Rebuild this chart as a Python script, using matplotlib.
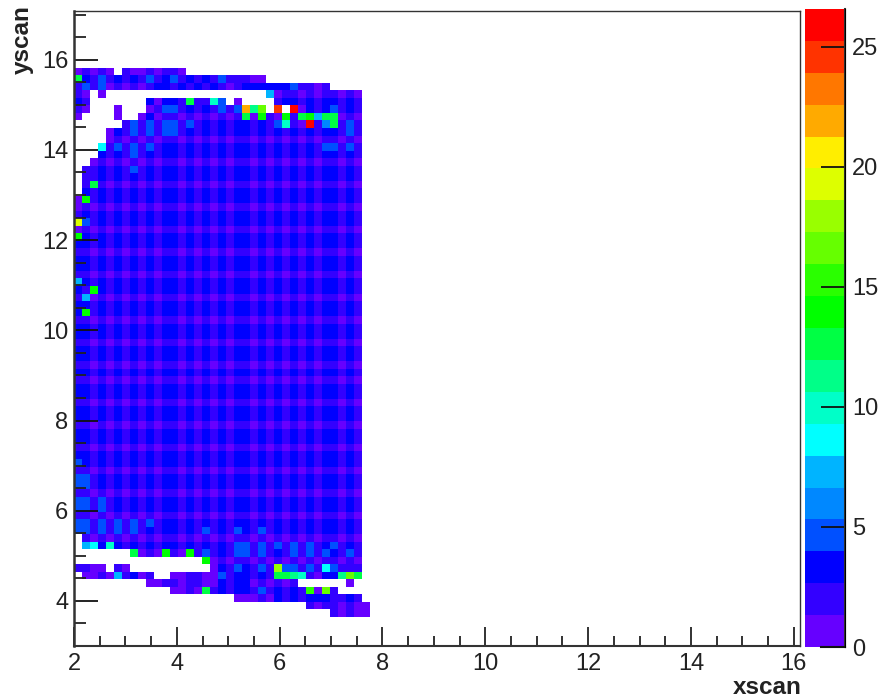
import numpy as np
import matplotlib
matplotlib.use("Agg")
import matplotlib.pyplot as plt
from matplotlib.colors import ListedColormap, Normalize
from matplotlib.ticker import MultipleLocator

plt.rcParams['font.family'] = ['Liberation Sans', 'DejaVu Sans']

# Each character is a colour-band index (0-9, a-j); '.' is an empty bin. Rows run top to bottom.
A = "1101010101011 010101011 01010101011 010."
B = "2212121212122 121212122 12121212122 121."
rows = [
"01010.1001011 0........ ........... ....",
"9213121213123 121213111 00......... ....",
"1313010101221 212121012 2222231101. ....",
"10.0......... ......... ..501101011 010.",
"21.......2022 191173.0. ...12212122 121.",
"10...0...0133 12121313g 8c.i.j02123 121.",
"0....0..02011 010101019 0a10a19a599 010.",
"......1313133 131212122 1213710j149 131.",
"....021313133 121212122 12121212122 131.",
"....010101011 010101011 01010101011 010.",
"...6131313122 121212122 12121212133 131.",
"...2121312122 121212122 12121212122 121.",
"..01010101011 010101011 01010101011 010.",
".112121312122 121212122 12121212122 121.",
".112121212122 121212122 12121212122 121.",
".191010101011 010101011 01010101011 010.",
".212121212122 121212122 12121212122 121.",
"0a12121212122 121212122 12121212122 121.",
"0101010101011 010101011 01010101011 010.",
"1212121212122 121212122 12121212122 121.",
"e312121212122 121212122 12121212122 121.",
"0101010101011 010101011 01010101011 010.",
"a212121212122 121212122 12121212122 121.",
B, A, B, B, A,
"5212121212122 121212122 12121212122 121.",
"21a2121212122 121212122 12121212122 121.",
"1501010101011 010101011 01010101011 010.",
B,
"2a12121212122 121212122 12121212122 121.",
A, B, B, A, B, B, A, B, A, B, B, A, B, B, A, B, B, A, B,
"3212121212122 121212122 12121212122 121.",
A,
"3312121212122 121212122 12121212122 121.",
"3312121212122 121212122 12121212122 121.",
A,
"3313121212122 121212122 12121212122 121.",
"3313121212122 121212122 12121212122 121.",
A,
"3313131313122 121212122 12121212122 121.",
"3313131312122 121312132 13121212122 121.",
".101010101011 010101011 01010101011 010.",
".562721212122 121212133 13131313123 121.",
".......9010a1 0a1312133 13121313132 131.",
"............. ...a01011 01010101011 010.",
"1100.10...... ....02132 131d3313163 111.",
".001051201..0 011003122 12199871022 8c9.",
".........0011 011002122 010101..... .0..",
"............0 010912122 1312121b0c1 ....",
"............. .......00 01021212221 121.",
"............. ......... .......1011 0100",
"............. ......... ..........1 0100",
]
band_colors = ["#6600ff", "#3300ff", "#0000ff", "#0050ff", "#0088ff", "#00b4ff", "#00ffff",
               "#00ffc8", "#00ff88", "#00ff44", "#00ff00", "#2aff00", "#66ff00", "#99ff00",
               "#ddff00", "#ffee00", "#ffaa00", "#ff7700", "#ff3300", "#ff0000"]
z_max = 26.57
x_first, x_bin = 2.0, 0.1556
y_first, y_bin = 15.82, 0.1668
x_major = [2, 4, 6, 8, 10, 12, 14, 16]
y_major = [4, 6, 8, 10, 12, 14, 16]
cbar_ticks = [0, 5, 10, 15, 20, 25]

symbols = "0123456789abcdefghij"
band_width = z_max / len(band_colors)
grid = np.full((len(rows), 37), np.nan)
for j, row in enumerate(rows):
    for i, ch in enumerate(row.replace(" ", "")[:37]):
        if ch != ".":
            grid[j, i] = (symbols.index(ch) + 0.5) * band_width
x_edges = x_first + x_bin * np.arange(38)
y_edges = y_first - y_bin * np.arange(len(rows) + 1)

W, H = 881, 699
fig = plt.figure(figsize=(W / 100, H / 100), dpi=100)
ax = fig.add_axes([74 / W, 1 - 646 / H, 726 / W, 635 / H])
cmap = ListedColormap(band_colors)
norm = Normalize(0, z_max)
mesh = ax.pcolormesh(x_edges, y_edges, np.ma.masked_invalid(grid), cmap=cmap, norm=norm, linewidth=0)
ax.set_xlim(2, 16.12)
ax.set_ylim(3.0, 17.08)
ax.set_xticks(x_major)
ax.set_yticks(y_major)
ax.xaxis.set_minor_locator(MultipleLocator(0.5))
ax.yaxis.set_minor_locator(MultipleLocator(0.5))
ax.tick_params(axis='x', which='major', direction='in', length=14, width=1.3, labelsize=17, pad=5, color='#222222')
ax.tick_params(axis='x', which='minor', direction='in', length=7, width=1.3, color='#222222')
ax.tick_params(axis='y', which='major', direction='in', length=17, width=1.3, labelsize=17, pad=4, color='#111111')
ax.tick_params(axis='y', which='minor', direction='in', length=8.5, width=1.3, color='#222222')
for side, lw in dict(left=1.8, bottom=1.5, top=1.0, right=1.0).items():
    ax.spines[side].set_linewidth(lw)
    ax.spines[side].set_color('#333333')
ax.set_xlabel('xscan', fontsize=17.5, fontweight='bold', ha='right', va='bottom', color='#222222')
ax.xaxis.set_label_coords(1.002, -(699 - 646) / 635)
ax.set_ylabel('yscan', fontsize=17.5, fontweight='bold', ha='right', va='center', color='#222222')
ax.yaxis.set_label_coords(-(74 - 22) / 726, 1.0 + 6 / 635)

cax = fig.add_axes([805 / W, 1 - 647 / H, 40 / W, 638 / H])
cb = fig.colorbar(mesh, cax=cax, ticks=cbar_ticks)
cb.outline.set_visible(False)
cax.spines['right'].set_visible(True)
cax.tick_params(axis='y', direction='in', length=17, width=1.3, labelsize=17, pad=5, color='#111111')
cax.axvline(1, color='#333333', lw=1.5, clip_on=False)
cax.plot([0.4, 1], [0, 0], color='#111111', lw=1.5, clip_on=False)
for lab in ax.get_xticklabels() + ax.get_yticklabels() + cax.get_yticklabels():
    lab.set_color('#222222')

fig.savefig('out.png', dpi=100)
